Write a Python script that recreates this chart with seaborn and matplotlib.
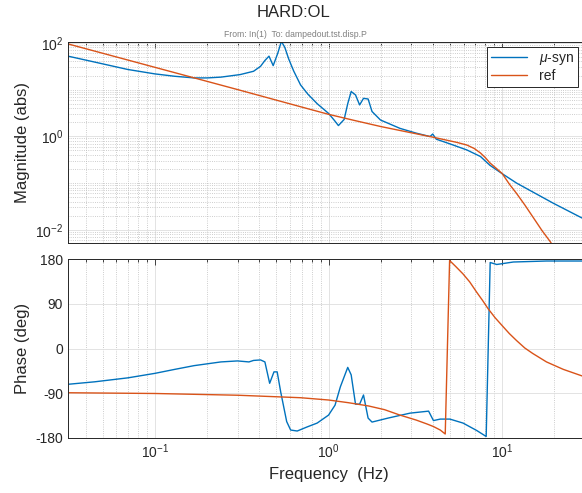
import matplotlib
matplotlib.use("Agg")
import matplotlib.pyplot as plt
import matplotlib.ticker as mticker
import seaborn as sns

# valores
f_mag_mu = [0.0316, 0.0448, 0.0697, 0.1, 0.13, 0.168, 0.2, 0.24, 0.31, 0.37, 0.406,
            0.43, 0.454, 0.48, 0.51, 0.535, 0.56, 0.59, 0.63, 0.69, 0.76, 0.86, 1.0,
            1.08, 1.14, 1.23, 1.29, 1.35, 1.43, 1.51, 1.59, 1.69, 1.78, 1.99, 2.58,
            3.2, 3.84, 3.98, 4.17, 5.0, 6.27, 7.5, 8.5, 9.97, 12.1, 19.7, 31.6]
mag_mu = [52, 39, 27, 21.7, 19.3, 17.8, 17.8, 18.5, 21, 24.7, 31.6,
          42, 52, 32.6, 60, 108, 80, 45, 25, 12.6, 8, 5.0, 3.1,
          2.2, 1.7, 2.3, 5.0, 9.1, 7.7, 4.7, 6.5, 6.3, 3.4, 2.24, 1.48,
          1.17, 0.99, 1.12, 0.87, 0.69, 0.51, 0.37, 0.24, 0.16, 0.1, 0.037, 0.015]

f_mag_ref = [0.0316, 0.1, 0.3, 0.69, 1.0, 1.4, 2.0, 3.0, 3.84, 5.0, 5.5, 6.27, 6.9,
             7.5, 8.0, 8.5, 9.2, 10, 11, 12.1, 13.5, 15, 17, 18.9, 21]
mag_ref = [95, 30, 10, 4.3, 2.96, 2.2, 1.62, 1.19, 0.99, 0.8, 0.74, 0.65, 0.55,
           0.44, 0.35, 0.27, 0.21, 0.16, 0.095, 0.06, 0.034, 0.019, 0.0095, 0.0056, 0.003]

f_ph_mu = [0.0316, 0.045, 0.07, 0.1, 0.13, 0.168, 0.24, 0.299, 0.348, 0.37, 0.406,
           0.43, 0.458, 0.485, 0.506, 0.53, 0.574, 0.605, 0.66, 0.75, 0.86, 1.0,
           1.09, 1.17, 1.29, 1.35, 1.43, 1.51, 1.59, 1.69, 1.78, 2.2, 2.95, 3.77,
           4.02, 4.4, 5.0, 5.95, 7.14, 8.09, 8.53, 9.3, 11.6, 18, 31.6]
ph_mu = [-72, -67, -59, -50, -42, -34.5, -27, -25, -27, -24, -23,
         -27, -70, -47, -47, -87, -147, -164, -166, -158, -150, -134,
         -114, -77, -38, -53, -112, -112, -93.5, -140, -148, -140, -130, -126,
         -145, -142, -142, -150, -165, -177, 173, 169, 174, 176, 176]

f_ph_ref = [0.0316, 0.1, 0.3, 0.69, 1.0, 1.3, 1.7, 2.1, 2.58, 3.2, 3.7, 4.02, 4.4,
            4.70, 4.98, 5.4, 5.95, 6.5, 7.14, 7.7, 8.3, 9.1, 10, 11, 12.1, 13.5,
            15, 18, 22.5, 31.6]
ph_ref = [-89, -90.5, -94, -99, -103.6, -109, -115.6, -123, -134, -144, -152, -157,
          -164, -172, 177, 165, 150, 134, 113, 97, 80, 62, 46, 30, 16, 1,
          -10, -27, -42, -60]

azul = '#0072BD'
laranja = '#D95319'

sns.set_theme(style="white")
plt.rcParams['font.family'] = ['Liberation Sans', 'DejaVu Sans']
plt.rcParams['mathtext.fontset'] = 'custom'
plt.rcParams['mathtext.rm'] = 'Liberation Sans'
plt.rcParams['mathtext.it'] = 'Liberation Sans:italic'
plt.rcParams['axes.unicode_minus'] = False

fig = plt.figure(figsize=(5.82, 4.93), dpi=100)
ax1 = fig.add_axes([0.117, 0.507, 0.895, 0.408])
ax2 = fig.add_axes([0.117, 0.1116, 0.895, 0.363])

sns.lineplot(x=f_mag_mu, y=mag_mu, ax=ax1, color=azul, lw=1.0, sort=False,
             estimator=None, label='$\\mu$-syn')
sns.lineplot(x=f_mag_ref, y=mag_ref, ax=ax1, color=laranja, lw=1.0, sort=False,
             estimator=None, label='ref')
sns.lineplot(x=f_ph_mu, y=ph_mu, ax=ax2, color=azul, lw=1.0, sort=False, estimator=None)
sns.lineplot(x=f_ph_ref, y=ph_ref, ax=ax2, color=laranja, lw=1.0, sort=False, estimator=None)

for ax in (ax1, ax2):
    ax.set_xscale('log')
    ax.set_xlim(10 ** -1.5, 10 ** 1.5)
    ax.xaxis.set_major_locator(mticker.LogLocator(base=10, numticks=10))
    ax.xaxis.set_minor_locator(mticker.LogLocator(base=10, subs=range(2, 10), numticks=20))
    ax.xaxis.set_minor_formatter(mticker.NullFormatter())
    ax.grid(True, which='major', color='#dedede', lw=0.6, ls='-')
    ax.grid(True, which='minor', axis='x', color='#bdbdbd', lw=0.6, ls=':')
    ax.tick_params(which='both', direction='in', top=True, right=True, colors='#262626',
                   labelsize=10, width=0.6)
    ax.tick_params(which='major', length=4)
    ax.tick_params(which='minor', length=2.5)
    for s in ax.spines.values():
        s.set_color('#262626')
        s.set_linewidth(0.7)
    ax.set_axisbelow(True)

ax1.set_yscale('log')
ax1.set_ylim(0.0052, 105)
ax1.yaxis.set_major_locator(mticker.FixedLocator([1e-2, 1e0, 1e2]))
ax1.yaxis.set_major_formatter(mticker.LogFormatterMathtext())
ax1.yaxis.set_minor_locator(mticker.LogLocator(base=10, subs=range(1, 10), numticks=30))
ax1.yaxis.set_minor_formatter(mticker.NullFormatter())
ax1.grid(True, which='minor', axis='y', color='#bdbdbd', lw=0.6, ls=':')
ax1.tick_params(labelbottom=False)
ax1.set_ylabel('Magnitude (abs)', fontsize=12)
ax1.yaxis.set_label_coords(-0.073, 0.5)

ax2.set_ylim(-180, 180)
ax2.set_yticks([-180, -90, 0, 90, 180])
ax2.set_ylabel('Phase (deg)', fontsize=12)
ax2.yaxis.set_label_coords(-0.073, 0.5)
ax2.set_xlabel('Frequency  (Hz)', fontsize=12, labelpad=4)

leg = ax1.legend(loc='upper right', bbox_to_anchor=(0.979, 0.975), borderaxespad=0,
                 fancybox=False, framealpha=1, edgecolor='#262626', fontsize=10,
                 handlelength=2.6, borderpad=0.3, labelspacing=0.15)
leg.get_frame().set_linewidth(0.7)

fig.text(0.505, 0.975, 'HARD:OL', ha='center', va='center', fontsize=12)
fig.text(0.507, 0.931, 'From: In(1)  To: dampedout.tst.disp.P', ha='center', va='center',
         fontsize=6.2, color='#808080')

plt.savefig('out.png', dpi=100)
